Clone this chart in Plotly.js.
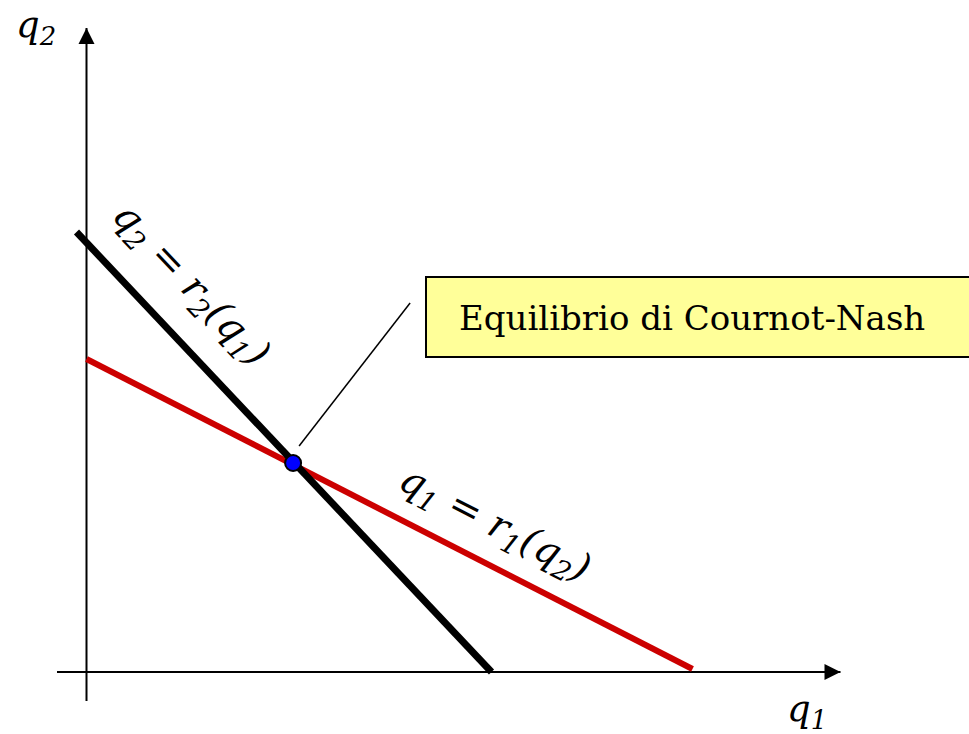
<!DOCTYPE html>
<html>
<head>
<meta charset="utf-8">
<script src="https://cdn.plot.ly/plotly-3.0.1.min.js"></script>
<style>html,body{margin:0;padding:0;background:#fff;}#chart{width:969px;height:734px;}</style>
</head>
<body>
<div id="chart"></div>
<script>
// ---- data (quantities in arbitrary units) ----
// reaction function of firm 2: q2 = r2(q1)
const r2_q1 = [-0.5, 20.25];
const r2_q2 = [22.0, 0.0];
// reaction function of firm 1: q1 = r1(q2)
const r1_q1 = [0.0, 30.3];
const r1_q2 = [15.65, 0.15];
// Cournot-Nash equilibrium
const eq_q1 = [10.33];
const eq_q2 = [10.45];
// axes extent
const q1Axis = [-1.475, 37.7];
const q2Axis = [-1.45, 32.2];
// texts
const labelR2 = '<i>q<sub>2</sub> = r<sub>2</sub>(q<sub>1</sub>)</i>';
const labelR1 = '<i>q<sub>1</sub> = r<sub>1</sub>(q<sub>2</sub>)</i>';
const labelQ1 = '<i>q<sub>1</sub></i>';
const labelQ2 = '<i>q<sub>2</sub></i>';
const calloutText = 'Equilibrio di Cournot-Nash';

// ---- layout constants ----
const PX = 20;                // pixels per unit
const ORIGIN = [86.5, 672];   // pixel position of (0,0)
const W = 969, H = 734;
const serif = 'DejaVu Serif';

const traces = [
  { x: [0, 0], y: q2Axis, mode: 'lines', line: {color: '#000', width: 2}, hoverinfo: 'skip' },
  { x: q1Axis, y: [0, 0], mode: 'lines', line: {color: '#000', width: 2}, hoverinfo: 'skip' },
  { x: [0], y: [q2Axis[1]], mode: 'markers', marker: {symbol: 'arrow-up', size: 16, color: '#000', line: {width: 0}}, hoverinfo: 'skip' },
  { x: [q1Axis[1]], y: [0], mode: 'markers', marker: {symbol: 'arrow-right', size: 16, color: '#000', line: {width: 0}}, hoverinfo: 'skip' },
  { x: r1_q1, y: r1_q2, mode: 'lines', line: {color: '#CC0000', width: 6}, hoverinfo: 'skip' },
  { x: r2_q1, y: r2_q2, mode: 'lines', line: {color: '#000000', width: 7}, hoverinfo: 'skip' },
  { x: eq_q1, y: eq_q2, mode: 'markers', marker: {symbol: 'circle', size: 16, color: '#0000FF', line: {color: '#000', width: 2}}, hoverinfo: 'skip' }
];

const xr = [-ORIGIN[0] / PX, (W - ORIGIN[0]) / PX];
const yr = [-(H - ORIGIN[1]) / PX, ORIGIN[1] / PX];
function ux(px) { return (px - ORIGIN[0]) / PX; }
function uy(py) { return (ORIGIN[1] - py) / PX; }

// slopes in screen space for text rotation
const angR2 = Math.atan2((r2_q2[0] - r2_q2[1]), (r2_q1[1] - r2_q1[0])) * 180 / Math.PI;
const angR1 = Math.atan2((r1_q2[0] - r1_q2[1]), (r1_q1[1] - r1_q1[0])) * 180 / Math.PI;

const layout = {
  width: W, height: H,
  margin: {l: 0, r: 0, t: 0, b: 0, pad: 0},
  paper_bgcolor: '#fff', plot_bgcolor: '#fff',
  showlegend: false,
  font: {family: serif},
  xaxis: {range: xr, showgrid: false, zeroline: false, showticklabels: false, showline: false, ticks: '', fixedrange: true},
  yaxis: {range: yr, showgrid: false, zeroline: false, showticklabels: false, showline: false, ticks: '', fixedrange: true},
  shapes: [
    { type: 'rect', xref: 'x', yref: 'y', x0: ux(426), x1: ux(1000), y0: uy(357), y1: uy(277),
      fillcolor: '#FFFF99', line: {color: '#000', width: 2}, layer: 'above' },
    { type: 'line', xref: 'x', yref: 'y', x0: eq_q1[0] + 0.3, y0: eq_q2[0] + 0.85, x1: eq_q1[0] + 5.85, y1: eq_q2[0] + 8.0,
      line: {color: '#000', width: 1.5} }
  ],
  annotations: [
    { x: ux(457), y: uy(318), xanchor: 'left', yanchor: 'middle', text: calloutText, showarrow: false,
      font: {family: serif, size: 34, color: '#000'} },
    { x: ux(190), y: uy(285), xanchor: 'center', yanchor: 'middle', text: labelR2, showarrow: false,
      textangle: angR2, font: {family: serif, size: 39, color: '#000'} },
    { x: ux(494), y: uy(525), xanchor: 'center', yanchor: 'middle', text: labelR1, showarrow: false,
      textangle: angR1, font: {family: serif, size: 39, color: '#000'} },
    { x: ux(36), y: uy(27), xanchor: 'center', yanchor: 'middle', text: labelQ2, showarrow: false,
      font: {family: serif, size: 37, color: '#000'} },
    { x: ux(807), y: uy(711), xanchor: 'center', yanchor: 'middle', text: labelQ1, showarrow: false,
      font: {family: serif, size: 37, color: '#000'} }
  ]
};

Plotly.newPlot('chart', traces, layout, {staticPlot: true, displayModeBar: false});
</script>
</body>
</html>
